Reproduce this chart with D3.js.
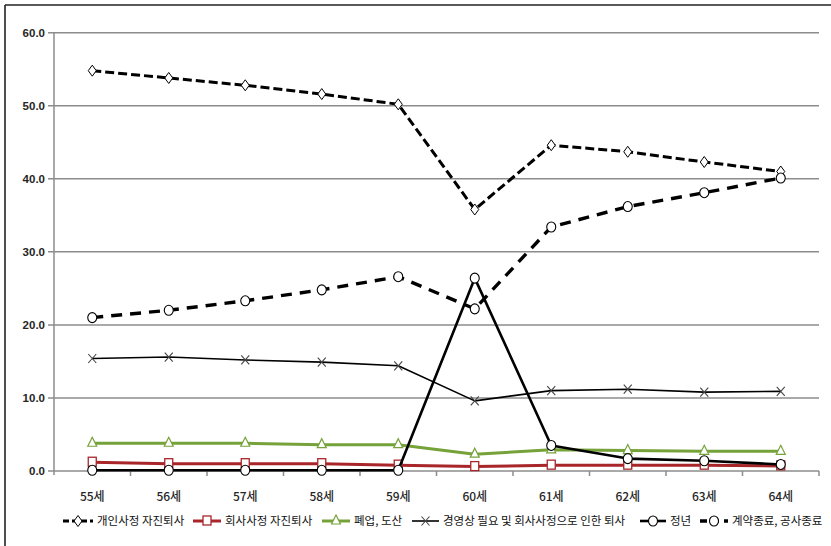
<!DOCTYPE html>
<html><head><meta charset="utf-8">
<script src="https://cdn.jsdelivr.net/npm/d3@7"></script>
<style>
html,body{margin:0;padding:0;background:#fff;}
svg{display:block;}
</style></head>
<body>
<svg id="chart" width="831" height="546"></svg>
<script>
const categories = ["55세","56세","57세","58세","59세","60세","61세","62세","63세","64세"];
const yTicks = [0,10,20,30,40,50,60];
const seriesNames = ["개인사정 자진퇴사","회사사정 자진퇴사","폐업, 도산","경영상 필요 및 회사사정으로 인한 퇴사","정년","계약종료, 공사종료"];
const personal   = [54.8,53.8,52.8,51.6,50.2,35.8,44.6,43.7,42.3,41.0];
const company    = [1.2,1.0,1.0,1.0,0.8,0.6,0.8,0.8,0.8,0.7];
const closure    = [3.8,3.8,3.8,3.6,3.6,2.3,2.9,2.8,2.7,2.7];
const managerial = [15.4,15.6,15.2,14.9,14.4,9.6,11.0,11.2,10.8,10.9];
const retirement = [0.1,0.1,0.1,0.1,0.1,26.4,3.5,1.7,1.4,0.9];
const contract   = [21.0,22.0,23.3,24.8,26.6,22.2,33.4,36.2,38.1,40.1];

const styles = [
  {values: personal,   color:"#000", width:3,   dash:"9,4",  marker:"diamond"},
  {values: company,    color:"#a8262a", width:3, dash:null, marker:"square"},
  {values: closure,    color:"#76a23a", width:3, dash:null, marker:"triangle"},
  {values: managerial, color:"#000", width:1.6, dash:null, marker:"x"},
  {values: retirement, color:"#000", width:2.6, dash:null, marker:"circle"},
  {values: contract,   color:"#000", width:3.4, dash:"11,8", marker:"circle"}
];

const svg = d3.select("#chart");
const x = d3.scaleBand().domain(categories).range([54, 819]).padding(0);
const y = d3.scaleLinear().domain([0,60]).range([471, 32.7]);
const cx = c => x(c) + x.bandwidth()/2;

// frame
svg.append("line").attr("x1",5).attr("x2",831).attr("y1",5).attr("y2",5).attr("stroke","#222").attr("stroke-width",1.6);
svg.append("line").attr("x1",5).attr("x2",5).attr("y1",5).attr("y2",546).attr("stroke","#222").attr("stroke-width",1.6);

// gridlines
svg.append("g").selectAll("line").data(yTicks).join("line")
  .attr("x1",48).attr("x2",819)
  .attr("y1",d=>y(d)).attr("y2",d=>y(d))
  .attr("stroke","#8c8c8c").attr("stroke-width",1.5);
// y axis line
svg.append("line").attr("x1",54).attr("x2",54).attr("y1",y(60)).attr("y2",475)
  .attr("stroke","#8c8c8c").attr("stroke-width",1.5);
// y labels
svg.append("g").selectAll("text").data(yTicks).join("text")
  .attr("x",45).attr("y",d=>y(d)).attr("dy","0.35em")
  .attr("text-anchor","end")
  .attr("font-family","Liberation Sans Narrow, Liberation Sans, Arial, sans-serif").attr("font-size",11.5).attr("font-weight","bold")
  .attr("fill","#262626")
  .text(d=>d3.format(".1f")(d));
// x ticks
const bounds = categories.map(c=>x(c)).concat([x(categories[categories.length-1])+x.bandwidth()]);
svg.append("g").selectAll("line").data(bounds.slice(1)).join("line")
  .attr("x1",d=>d).attr("x2",d=>d).attr("y1",471).attr("y2",476)
  .attr("stroke","#8c8c8c").attr("stroke-width",1.5);
// x labels
svg.append("g").selectAll("text").data(categories).join("text")
  .attr("x",d=>cx(d)).attr("y",497).attr("dy","0.35em")
  .attr("text-anchor","middle")
  .attr("font-family","Noto Sans CJK KR, sans-serif").attr("font-size",12).attr("font-weight",500)
  .attr("fill","#262626")
  .text(d=>d);

function drawMarker(g, type, px, py, color){
  if(type==="diamond"){
    g.append("path").attr("d",`M${px},${py-5.5}L${px+4},${py}L${px},${py+5.5}L${px-4},${py}Z`)
      .attr("fill","#fff").attr("stroke",color).attr("stroke-width",1);
  } else if(type==="square"){
    g.append("rect").attr("x",px-4).attr("y",py-5).attr("width",8).attr("height",9)
      .attr("fill","#fff").attr("stroke",color).attr("stroke-width",1.3);
  } else if(type==="triangle"){
    g.append("path").attr("d",`M${px},${py-6}L${px+4.5},${py+3}L${px-4.5},${py+3}Z`)
      .attr("fill","#fff").attr("stroke",color).attr("stroke-width",1.2);
  } else if(type==="x"){
    g.append("path").attr("d",`M${px-4},${py-4.5}L${px+4},${py+4.5}M${px+4},${py-4.5}L${px-4},${py+4.5}`)
      .attr("fill","none").attr("stroke","#444").attr("stroke-width",1.1);
  } else if(type==="circle"){
    g.append("ellipse").attr("cx",px).attr("cy",py).attr("rx",4.5).attr("ry",5)
      .attr("fill","#fff").attr("stroke",color).attr("stroke-width",1.1);
  }
}

const line = d3.line().x((d,i)=>cx(categories[i])).y(d=>y(d));
styles.forEach(s=>{
  const g = svg.append("g");
  g.append("path").attr("d",line(s.values)).attr("fill","none")
    .attr("stroke",s.color).attr("stroke-width",s.width)
    .attr("stroke-dasharray",s.dash).attr("stroke-linejoin","round");
  s.values.forEach((v,i)=>drawMarker(g,s.marker,cx(categories[i]),y(v),s.color));
});

// legend
const legendX = [63,193,322,412,640,700];
const legendTextX = [97,225,354,443,670,732];
const legY = 521;
styles.forEach((s,i)=>{
  const g = svg.append("g");
  const x0 = legendX[i], x1 = legendTextX[i]-4;
  g.append("line").attr("x1",x0).attr("x2",x1).attr("y1",legY).attr("y2",legY)
    .attr("stroke",s.color).attr("stroke-width",s.width)
    .attr("stroke-dasharray",s.dash? (i===0?"6,3":"7,5"):null);
  drawMarker(g,s.marker,(x0+x1)/2,legY,s.color);
  g.append("text").attr("x",legendTextX[i]).attr("y",legY).attr("dy","0.35em")
    .attr("font-family","Noto Sans CJK KR, sans-serif").attr("font-size",11.5)
    .attr("fill","#111").text(seriesNames[i]);
});
</script>
</body></html>
